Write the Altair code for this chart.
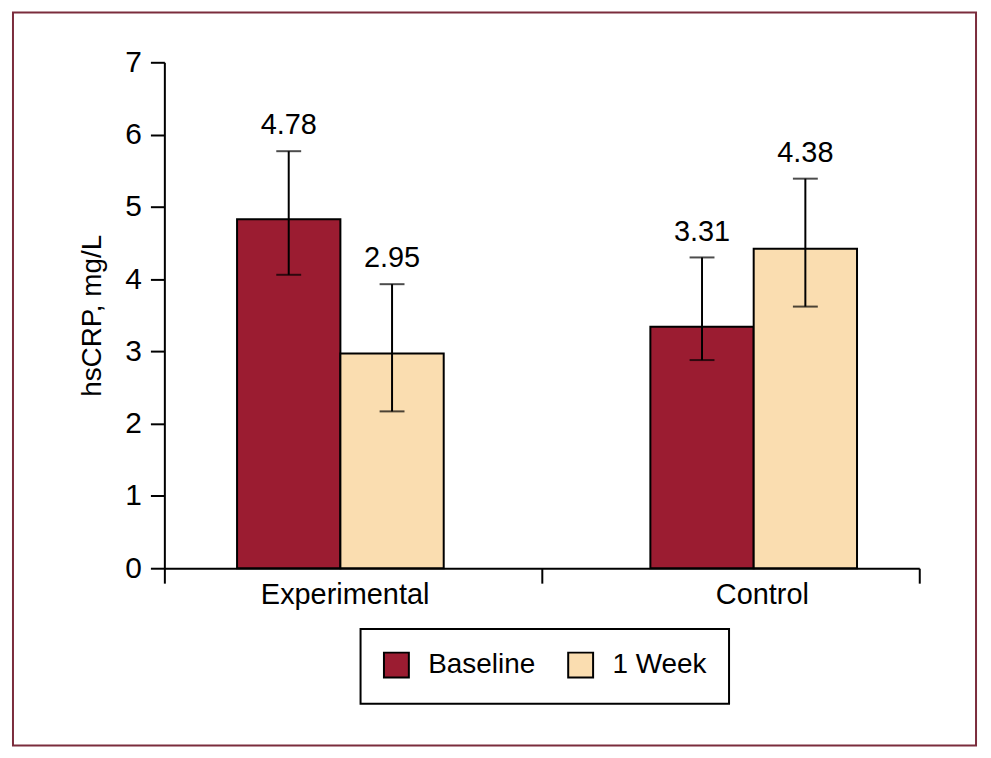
import altair as alt
import pandas as pd

groups = ["Experimental", "Experimental", "Control", "Control"]
periods = ["Baseline", "1 Week", "Baseline", "1 Week"]
means = [4.83, 2.97, 3.34, 4.42]
labels = ["4.78", "2.95", "3.31", "4.38"]
err_lo = [4.06, 2.17, 2.88, 3.62]
err_hi = [5.77, 3.93, 4.30, 5.39]
group_order = ["Experimental", "Control"]
period_order = ["Baseline", "1 Week"]
colors = ["#9B1C31", "#FADDB0"]
# slot order along x (two empty slots form the gap between the groups)
slot_order = ["Experimental Baseline", "Experimental 1 Week", "gap a", "gap b",
              "Control Baseline", "Control 1 Week"]

df = pd.DataFrame({"group": groups, "period": periods, "mean": means,
                   "label": labels, "lo": err_lo, "hi": err_hi})
df["slot"] = df["group"] + " " + df["period"]

FONT = "Liberation Sans, Arial, sans-serif"

# layer giving the x-axis line and the boundary ticks
axis_ticks = alt.Chart(df).mark_point(opacity=0).encode(
    x=alt.X("group:N", sort=group_order,
            scale=alt.Scale(paddingInner=0, paddingOuter=0, range=[0, 758]),
            axis=alt.Axis(title=None, orient="bottom", tickBand="extent", tickSize=15,
                          tickWidth=2, tickColor="black", domainColor="black",
                          domainWidth=2, labels=False)))

# layer giving the group labels
axis_labels = alt.Chart(df).mark_point(opacity=0).encode(
    x=alt.X("group:N", sort=group_order,
            scale=alt.Scale(paddingInner=0, paddingOuter=0, range=[-28.5, 809.5]),
            axis=alt.Axis(title=None, orient="bottom", domain=False, tickSize=15,
                          tickOpacity=0, labelFontSize=29, labelFont=FONT,
                          labelColor="black", labelPadding=-3, labelAngle=0,
                          labelLimit=400)))

xs = alt.X("slot:N", sort=slot_order,
           scale=alt.Scale(domain=slot_order, paddingInner=0, paddingOuter=0,
                           range=[73, 695.5]),
           axis=None)

base = alt.Chart(df)

bars = base.mark_bar(stroke="black", strokeWidth=2).encode(
    x=xs,
    y=alt.Y("mean:Q", scale=alt.Scale(domain=[0, 7], nice=False),
            axis=alt.Axis(title="hsCRP, mg/L", values=[0, 1, 2, 3, 4, 5, 6, 7],
                          format="d", grid=False, tickSize=14, tickWidth=2,
                          tickColor="black", domainColor="black", domainWidth=2,
                          labelFontSize=30, labelFont=FONT, labelColor="black",
                          labelPadding=9, titleFont=FONT, titleFontSize=28,
                          titleFontWeight="normal", titleColor="black",
                          titlePadding=18)),
    color=alt.Color("period:N", sort=period_order,
                    scale=alt.Scale(domain=period_order, range=colors),
                    legend=alt.Legend(title=None, orient="none", legendX=197, legendY=569,
                                      direction="horizontal", symbolType="square",
                                      symbolSize=625, symbolStrokeColor="black",
                                      symbolStrokeWidth=2, symbolOpacity=1,
                                      labelFont=FONT, labelFontSize=28, labelColor="black",
                                      labelOffset=18, columnPadding=28, padding=22,
                                      strokeColor="black")),
)

rules = base.mark_rule(color="black", strokeWidth=2).encode(
    x=xs, y="lo:Q", y2="hi:Q")
cap_lo = base.mark_tick(color="black", thickness=2, size=25).encode(x=xs, y="lo:Q")
cap_hi = base.mark_tick(color="black", thickness=2, size=25).encode(x=xs, y="hi:Q")
text = base.mark_text(font=FONT, fontSize=29, color="black", baseline="alphabetic",
                      dy=-17).encode(x=xs, y="hi:Q", text="label:N")

data_layer = alt.layer(bars, rules, cap_lo, cap_hi, text)

frame = alt.Chart(pd.DataFrame({"k": [0]})).mark_rect(
    fill="transparent", stroke="#7B2C3C", strokeWidth=2).encode(
    x=alt.value(-152), x2=alt.value(815), y=alt.value(-50), y2=alt.value(686))

chart = alt.layer(frame, axis_ticks, axis_labels, data_layer).resolve_scale(
    x="independent").properties(
    width=756, height=508,
    autosize=alt.AutoSizeParams(type="none"),
    padding={"left": 157, "top": 53, "right": 66, "bottom": 180},
).configure_view(stroke=None).configure_legend(strokeWidth=2)

chart.save("out.html", embed_options={"renderer": "svg", "actions": False})
